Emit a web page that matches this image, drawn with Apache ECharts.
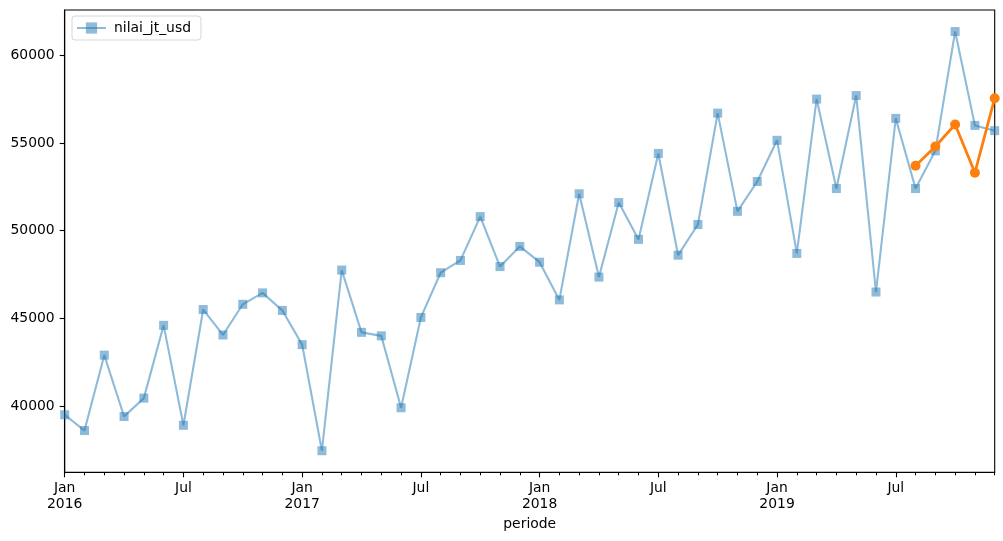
<!DOCTYPE html>
<html>
<head>
<meta charset="utf-8">
<script src="https://cdn.jsdelivr.net/npm/echarts@6/dist/echarts.min.js"></script>
<style>
html,body{margin:0;padding:0;background:#fff;}
#chart{width:1003px;height:541px;}
</style>
</head>
<body>
<div id="chart"></div>
<script>
// ---- data ----
const periods = [
  '2016-01','2016-02','2016-03','2016-04','2016-05','2016-06','2016-07','2016-08','2016-09','2016-10','2016-11','2016-12',
  '2017-01','2017-02','2017-03','2017-04','2017-05','2017-06','2017-07','2017-08','2017-09','2017-10','2017-11','2017-12',
  '2018-01','2018-02','2018-03','2018-04','2018-05','2018-06','2018-07','2018-08','2018-09','2018-10','2018-11','2018-12',
  '2019-01','2019-02','2019-03','2019-04','2019-05','2019-06','2019-07','2019-08','2019-09','2019-10','2019-11','2019-12'
];
const nilaiJtUsd = [
  39500, 38600, 42900, 39400, 40450, 44600, 38900, 45500, 44050, 45800, 46450, 45450,
  43500, 37450, 47750, 44200, 44000, 39900, 45050, 47600, 48300, 50800, 47950, 49100,
  48200, 46050, 52100, 47350, 51600, 49500, 54400, 48600, 50350, 56700, 51100, 52800,
  55150, 48700, 57500, 52400, 57700, 46500, 56400, 52400, 54550, 61350, 56000, 55700
];
const forecastPeriods = ['2019-08','2019-09','2019-10','2019-11','2019-12'];
const forecastValues = [53700, 54800, 56050, 53300, 57550];
const monthNames = ['Jan','Feb','Mar','Apr','May','Jun','Jul','Aug','Sep','Oct','Nov','Dec'];
const yTicks = [40000, 45000, 50000, 55000, 60000];
const seriesName = 'nilai_jt_usd';
const xAxisName = 'periode';

// ---- derived ----
const idx = p => periods.indexOf(p);
const mainData = periods.map((p, i) => [i, nilaiJtUsd[i]]);
const fcData = forecastPeriods.map((p, i) => [idx(p), forecastValues[i]]);
const allIdx = periods.map((p, i) => i);
const majorIdx = periods.map((p, i) => i).filter(i => {
  const m = periods[i].slice(5);
  return m === '01' || m === '07';
});
function xLabel(v) {
  const p = periods[Math.round(v)];
  if (!p) return '';
  const y = p.slice(0, 4), m = parseInt(p.slice(5), 10);
  return m === 1 ? monthNames[0] + '\n' + y : monthNames[m - 1];
}

const FONT = 'DejaVu Sans';
const chart = echarts.init(document.getElementById('chart'), null, {renderer: 'canvas'});
chart.setOption({
  animation: false,
  backgroundColor: '#ffffff',
  textStyle: {fontFamily: FONT},
  grid: {
    left: 64.7, right: 8.3, top: 10, bottom: 68.7,
    show: true, borderColor: '#000', borderWidth: 1.1, backgroundColor: 'transparent'
  },
  legend: {
    show: true,
    data: [seriesName],
    left: 72, top: 16,
    orient: 'vertical',
    padding: [5, 10, 5, 4],
    itemWidth: 29, itemHeight: 14, itemGap: 0,
    backgroundColor: 'rgba(255,255,255,0.8)',
    borderColor: '#d6d6d6', borderWidth: 1, borderRadius: 3,
    textStyle: {fontFamily: FONT, fontSize: 13.9, color: '#000', padding: [0, 0, 0, 3]}
  },
  xAxis: [{
    type: 'value',
    min: 0, max: periods.length - 1,
    name: xAxisName, nameLocation: 'middle', nameGap: 43,
    nameTextStyle: {fontFamily: FONT, fontSize: 13.9, color: '#000'},
    axisLine: {show: true, lineStyle: {color: '#000', width: 1.1}},
    axisTick: {show: true, length: 5, lineStyle: {color: '#000', width: 1.1}, customValues: majorIdx},
    axisLabel: {
      show: true, customValues: majorIdx, formatter: xLabel,
      fontFamily: FONT, fontSize: 13.9, color: '#000', lineHeight: 16, margin: 8,
      showMinLabel: true, showMaxLabel: true
    },
    splitLine: {show: false}
  }, {
    type: 'value',
    position: 'bottom',
    min: 0, max: periods.length - 1,
    axisLine: {show: false},
    axisTick: {show: true, length: 3, lineStyle: {color: '#000', width: 1}, customValues: allIdx},
    axisLabel: {show: false},
    splitLine: {show: false}
  }],
  yAxis: {
    type: 'value',
    min: 36220, max: 62580,
    axisLine: {show: true, lineStyle: {color: '#000', width: 1.1}},
    axisTick: {show: true, length: 5, lineStyle: {color: '#000', width: 1.1}, customValues: yTicks},
    axisLabel: {
      show: true, customValues: yTicks, formatter: v => String(v),
      fontFamily: FONT, fontSize: 13.9, color: '#000', margin: 10
    },
    splitLine: {show: false}
  },
  series: [{
    name: seriesName,
    type: 'line',
    xAxisIndex: 0,
    data: mainData,
    symbol: 'rect', symbolSize: 9,
    showAllSymbol: true,
    lineStyle: {color: '#1f77b4', width: 2.1, opacity: 0.5},
    itemStyle: {color: '#1f77b4', opacity: 0.5},
    emphasis: {disabled: true},
    z: 2
  }, {
    name: 'forecast',
    type: 'line',
    xAxisIndex: 0,
    data: fcData,
    symbol: 'circle', symbolSize: 10,
    showAllSymbol: true,
    lineStyle: {color: '#ff7f0e', width: 2.8},
    itemStyle: {color: '#ff7f0e'},
    emphasis: {disabled: true},
    z: 3
  }]
});
</script>
</body>
</html>
